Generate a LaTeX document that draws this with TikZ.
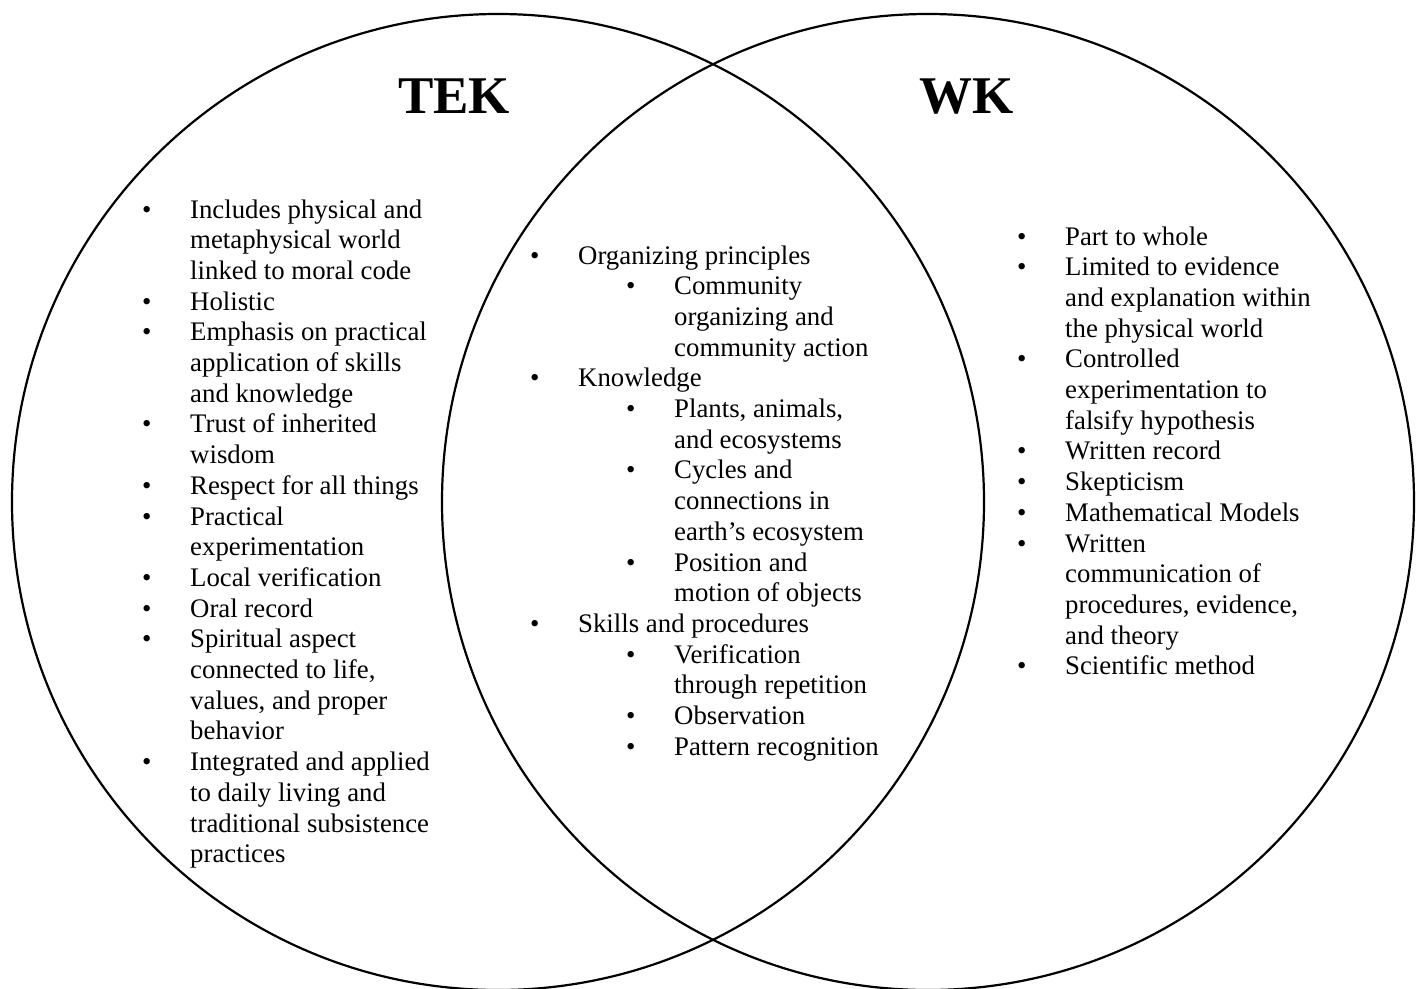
\documentclass[tikz,border=0pt]{standalone}
\usepackage{fontspec}
\setmainfont{Liberation Serif}
\usepackage{tikz}
\usetikzlibrary{shapes.geometric}

\newcommand{\puce}{\makebox[48pt][l]{\textbullet}}
\newcommand{\retrait}{\hspace*{48pt}}

\begin{document}
\begin{tikzpicture}[x=1pt,y=-1pt,
  cercle/.style={draw,ellipse,line width=2.2pt,inner sep=0pt,outer sep=0pt},
  titre/.style={anchor=base,inner sep=0pt,font=\fontsize{53}{60}\selectfont\bfseries},
  liste/.style={anchor=base west,inner sep=0pt,font=\fontsize{26.8}{30.7}\selectfont}]

% Cadre
\clip (0,0) rectangle (1416,988);
\fill[white] (0,0) rectangle (1416,988);

% Cercle gauche
\node[cercle,minimum width=972pt,minimum height=976pt] (tek) at (498,502) {};

% Cercle droit
\node[cercle,minimum width=972pt,minimum height=976pt] (wk) at (928,502) {};

% Titres
\node[titre] (titretek) at (454,113) {TEK};
\node[titre] (titrewk) at (966.5,113) {WK};

% Liste de gauche
\node[liste] (listetek) at (142,218) {\begin{tabular}[t]{@{}l@{}}
\puce Includes physical and\\
\retrait metaphysical world\\
\retrait linked to moral code\\
\puce Holistic\\
\puce Emphasis on practical\\
\retrait application of skills\\
\retrait and knowledge\\
\puce Trust of inherited\\
\retrait wisdom\\
\puce Respect for all things\\
\puce Practical\\
\retrait experimentation\\
\puce Local verification\\
\puce Oral record\\
\puce Spiritual aspect\\
\retrait connected to life,\\
\retrait values, and proper\\
\retrait behavior\\
\puce Integrated and applied\\
\retrait to daily living and\\
\retrait traditional subsistence\\
\retrait practices
\end{tabular}};

% Liste du milieu
\node[liste] (listecommun) at (530,264) {\begin{tabular}[t]{@{}l@{}}
\puce Organizing principles\\
\retrait\retrait\puce Community\\
\retrait\retrait\retrait organizing and\\
\retrait\retrait\retrait community action\\
\puce Knowledge\\
\retrait\retrait\puce Plants, animals,\\
\retrait\retrait\retrait and ecosystems\\
\retrait\retrait\puce Cycles and\\
\retrait\retrait\retrait connections in\\
\retrait\retrait\retrait earth’s ecosystem\\
\retrait\retrait\puce Position and\\
\retrait\retrait\retrait motion of objects\\
\puce Skills and procedures\\
\retrait\retrait\puce Verification\\
\retrait\retrait\retrait through repetition\\
\retrait\retrait\puce Observation\\
\retrait\retrait\puce Pattern recognition
\end{tabular}};

% Liste de droite
\node[liste] (listewk) at (1017,245) {\begin{tabular}[t]{@{}l@{}}
\puce Part to whole\\
\puce Limited to evidence\\
\retrait and explanation within\\
\retrait the physical world\\
\puce Controlled\\
\retrait experimentation to\\
\retrait falsify hypothesis\\
\puce Written record\\
\puce Skepticism\\
\puce Mathematical Models\\
\puce Written\\
\retrait communication of\\
\retrait procedures, evidence,\\
\retrait and theory\\
\puce Scientific method
\end{tabular}};

\end{tikzpicture}
\end{document}
